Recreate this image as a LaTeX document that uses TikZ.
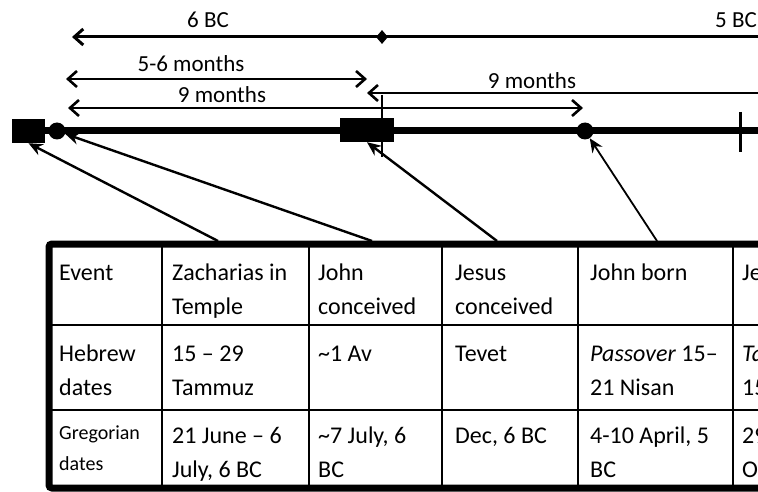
\documentclass[tikz,border=0pt]{standalone}
\usepackage{fontspec}
\setmainfont{Carlito}
\usetikzlibrary{arrows.meta,shapes.geometric}
\begin{document}
\begin{tikzpicture}[x=1pt,y=-1pt,
  lbl/.style={font=\fontsize{23}{27}\selectfont, inner sep=0},
  txt/.style={font=\fontsize{24}{28}\selectfont, anchor=base west, inner sep=0},
  stxt/.style={font=\fontsize{20}{24}\selectfont, anchor=base west, inner sep=0},
  span/.style={line width=2.6pt},
  barb/.tip={Straight Barb[length=9pt,width=16pt]},
  conn/.style={line width=2.4pt, -{Stealth[length=14pt,width=12pt]}},
  blk/.style={fill=black, draw=none, inner sep=0},
  grid/.style={line width=2.4pt},
  frame/.style={line width=7pt}
]
\useasboundingbox (0,0) rectangle (758,492);
\clip (0,0) rectangle (758,492);

% ---- top span arrows ----
\coordinate (t6L) at (72,37);
\coordinate (t6R) at (775,37);
\draw[line width=3pt, barb-] (t6L) -- (t6R);
\node[diamond, blk, minimum width=12pt, minimum height=14pt] (dm) at (382,37) {};
\node[lbl] (l6) at (208,20) {6 BC};
\node[lbl, anchor=east] (l5) at (757,20) {5 BC};

\coordinate (m56L) at (66,79);
\coordinate (m56R) at (367,79);
\draw[span, barb-barb] (m56L) -- (m56R);
\node[lbl] (l56) at (191,64) {5-6 months};

\coordinate (m9L) at (68,108);
\coordinate (m9R) at (583,108);
\draw[span, barb-barb] (m9L) -- (m9R);
\node[lbl] (l9a) at (222,95) {9 months};

\coordinate (n9L) at (367,93);
\coordinate (n9R) at (775,93);
\draw[span, barb-] (n9L) -- (n9R);
\node[lbl] (l9b) at (532,81) {9 months};

% ---- timeline ----
\coordinate (tlL) at (12,131);
\coordinate (tlR) at (775,131);
\draw[line width=7pt] (tlL) -- (tlR);
\node[blk, minimum width=33pt, minimum height=24pt] (sq) at (28.5,131) {};
\node[blk, circle, minimum size=17pt] (d1) at (57,131) {};
\node[blk, minimum width=54pt, minimum height=24pt] (jc) at (367,130) {};
\node[blk, circle, minimum size=17pt] (d2) at (585,131) {};
\coordinate (vT) at (382,95);
\coordinate (vB) at (382,157);
\draw[span] (vT) -- (vB);
\coordinate (tkT) at (740,112);
\coordinate (tkB) at (740,152);
\draw[line width=3pt] (tkT) -- (tkB);

% ---- connectors ----
\coordinate (a1) at (218,241);
\coordinate (a2) at (372,241);
\coordinate (a3) at (497,241);
\coordinate (a4) at (657,241);
\draw[conn] (a1) -- (sq.south);
\draw[conn] (a2) -- (d1);
\draw[conn] (a3) -- (jc.south);
\draw[conn, line width=1.8pt] (a4) -- (d2);

% ---- table ----
\foreach \x in {162,309,442,578,733} \draw[grid] (\x,244) -- (\x,488);
\draw[grid] (49,325) -- (775,325);
\draw[grid] (49,410) -- (775,410);
\draw[frame, rounded corners=3pt] (775,244) -- (49,244) -- (49,488) -- (775,488);

% row 1
\node[txt] (c11) at (59,280) {Event};
\node[txt] (c12a) at (172,280) {Zacharias in};
\node[txt] (c12b) at (172,314) {Temple};
\node[txt] (c13a) at (318,280) {John};
\node[txt] (c13b) at (318,314) {conceived};
\node[txt] (c14a) at (455,280) {Jesus};
\node[txt] (c14b) at (455,314) {conceived};
\node[txt] (c15) at (590,280) {John born};
\node[txt] (c16) at (742,280) {Jesus born};
% row 2
\node[txt] (c21a) at (59,361) {Hebrew};
\node[txt] (c21b) at (59,395) {dates};
\node[txt] (c22a) at (172,361) {15 -- 29};
\node[txt] (c22b) at (172,395) {Tammuz};
\node[txt] (c23) at (318,361) {\textasciitilde1 Av};
\node[txt] (c24) at (455,361) {Tevet};
\node[txt] (c25a) at (590,361) {\textit{Passover} 15--};
\node[txt] (c25b) at (590,395) {21 Nisan};
\node[txt] (c26a) at (742,361) {\textit{Tabernacles}};
\node[txt] (c26b) at (742,395) {15--21 Tishri};
% row 3
\node[stxt] (c31a) at (59,439) {Gregorian};
\node[stxt] (c31b) at (59,470) {dates};
\node[txt] (c32a) at (172,443) {21 June -- 6};
\node[txt] (c32b) at (172,477) {July, 6 BC};
\node[txt] (c33a) at (318,443) {\textasciitilde7 July, 6};
\node[txt] (c33b) at (318,477) {BC};
\node[txt] (c34) at (455,443) {Dec, 6 BC};
\node[txt] (c35a) at (590,443) {4-10 April, 5};
\node[txt] (c35b) at (590,477) {BC};
\node[txt] (c36a) at (742,443) {29 Sep -- 5};
\node[txt] (c36b) at (742,477) {Oct, 5 BC};
\end{tikzpicture}
\end{document}
